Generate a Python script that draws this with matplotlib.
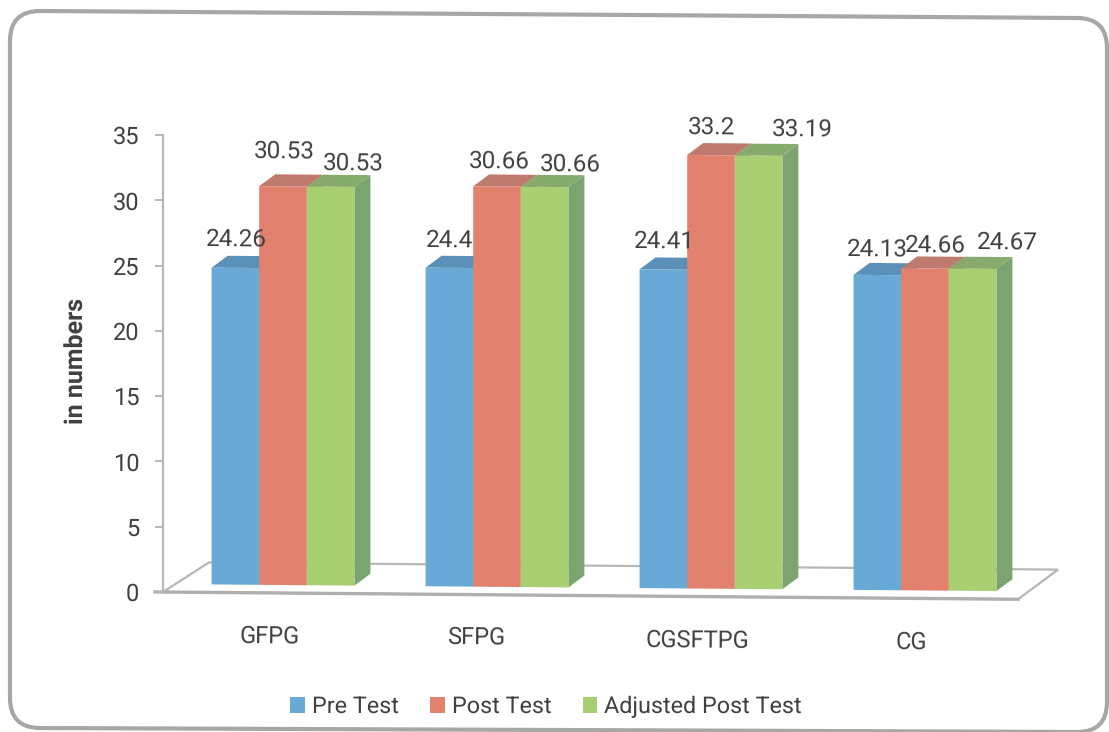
import matplotlib
matplotlib.use("Agg")
import math
import matplotlib.pyplot as plt
from matplotlib.patches import PathPatch, Patch
from matplotlib.path import Path
from matplotlib.transforms import Affine2D

categories = ["GFPG", "SFPG", "CGSFTPG", "CG"]
pre_test = [24.26, 24.4, 24.41, 24.13]
post_test = [30.53, 30.66, 33.2, 24.66]
adjusted_post_test = [30.53, 30.66, 33.19, 24.67]
series_names = ["Pre Test", "Post Test", "Adjusted Post Test"]
y_ticks = [0, 5, 10, 15, 20, 25, 30, 35]
y_label = "in numbers"

# layout (pixels)
W, H = 1109, 732
AX_L, AX_R, AX_T, AX_B = 163, 1018, 135, 592
CAT_PX = 214.0
SLOPE = 0.0085
LIFT = 8
DEPTH_X, DEPTH_Y = 16, 12
label_off = [
    [(1, 28), (1, 35), (23, 23)],
    [(0, 27), (2, 25), (26, 22)],
    [(1, 28), (1, 28), (44, 26)],
    [(0, 26), (10, 23), (35, 26)],
]
cat_off = [(-13, -43), (-21, -43), (-14, -44), (-14, -44)]

front = ["#68a9d5", "#e2826e", "#a9cf73"]
top = ["#5b90b8", "#bd7a6d", "#86ab6c"]
side = ["#5b90b8", "#bd7a6d", "#7ba470"]
ink = "#404040"
rule = "#b4b9b5"

plt.rcParams["font.family"] = ["Roboto", "DejaVu Sans"]
plt.rcParams["text.hinting"] = "none"
fig = plt.figure(figsize=(W / 100, H / 100), dpi=100, facecolor="white")
ax = fig.add_axes([AX_L / W, 1 - AX_B / H, (AX_R - AX_L) / W, (AX_B - AX_T) / H])
ax.patch.set_alpha(0)
u_x = CAT_PX
u_y = (AX_B - AX_T) / 35.0
ax.set_xlim((AX_L - 283) / u_x, (AX_R - 283) / u_x)
ax.set_ylim(0, 35)

tilt = Affine2D().translate(-AX_L, 0).skew(0, -math.atan(SLOPE)).translate(AX_L, 0)
floorT = ax.transData + tilt
barT = ax.transData + Affine2D().translate(0, LIFT) + tilt

# panel border
pxT = Affine2D().scale(1, -1).translate(0, H)
R = 30
TLx, TLy, TRx, TRy, BRx, BRy, BLx, BLy = 10, 11, 1107, 18, 1107, 732, 10, 728
verts = [(TLx + R, TLy), (TRx - R, TRy), (TRx, TRy), (TRx, TRy + R), (BRx, BRy - R), (BRx, BRy),
         (BRx - R, BRy), (BLx + R, BLy), (BLx, BLy), (BLx, BLy - R), (TLx, TLy + R), (TLx, TLy), (TLx + R, TLy)]
codes = [Path.MOVETO, Path.LINETO, Path.CURVE3, Path.CURVE3, Path.LINETO, Path.CURVE3, Path.CURVE3,
         Path.LINETO, Path.CURVE3, Path.CURVE3, Path.LINETO, Path.CURVE3, Path.CURVE3]
fig.add_artist(PathPatch(Path(verts, codes), fc="none", ec="#a6a8a6", lw=3.0, transform=pxT, zorder=0))

# floor
x0, x1 = ax.get_xlim()
ax.fill([x0, x0 + 46 / u_x, x1 + 40 / u_x, x1], [0, 30 / u_y, 30 / u_y, 0],
        fc="white", ec=rule, lw=1.6, transform=floorT, clip_on=False, zorder=1)
ax.plot([x0 - 8 / u_x, x1], [0, 0], color="#aeb0ae", lw=2.4, transform=floorT, clip_on=False, zorder=1.5)

# bars
w = 47.6 / u_x
dx, dy = DEPTH_X / u_x, DEPTH_Y / u_y
all_series = [pre_test, post_test, adjusted_post_test]
for j, vals in enumerate(all_series):
    xs = [i + (j - 1) * w for i in range(len(categories))]
    for x, v in zip(xs, vals):
        l, r = x - w / 2, x + w / 2
        ax.fill([r, r + dx, r + dx, r], [0, dy, v + dy, v], fc=side[j], ec="none",
                transform=barT, clip_on=False, zorder=2 + j)
        ax.fill([l, l + dx, r + dx, r], [v, v + dy, v + dy, v], fc=top[j], ec="none",
                transform=barT, clip_on=False, zorder=2 + j)
    ax.bar(xs, vals, width=w, color=front[j], transform=barT, clip_on=False, zorder=2.5 + j)

# value labels
for j, vals in enumerate(all_series):
    for i, v in enumerate(vals):
        ax.annotate(f"{v:g}", xy=(i + (j - 1) * w, v), xycoords=barT, xytext=label_off[i][j],
                    textcoords="offset pixels", ha="center", va="center", fontsize=17.5, color=ink,
                    rotation=-0.5, zorder=8, annotation_clip=False)

# category labels
for i, c in enumerate(categories):
    ax.annotate(c, xy=(i, 0), xycoords=floorT, xytext=cat_off[i], textcoords="offset pixels",
                ha="center", va="center", fontsize=17, color=ink, rotation=-0.5, annotation_clip=False)

# axes
for s in ["top", "right", "bottom"]:
    ax.spines[s].set_visible(False)
ax.spines["left"].set_color(rule)
ax.spines["left"].set_linewidth(1.6)
ax.set_xticks([])
ax.set_yticks(y_ticks)
ax.tick_params(axis="y", length=6, width=1.4, color=rule, labelsize=17, labelcolor=ink, pad=11)
ax.set_ylabel(y_label, fontsize=18, fontweight="bold", color=ink, va="center")
ax.yaxis.set_label_coords(77 / W, 1 - 361 / H, transform=fig.transFigure)

# legend
handles = [Patch(fc=c, ec="none") for c in front]
leg = fig.legend(handles, series_names, loc="center", bbox_to_anchor=(546 / W, 1 - 707 / H),
                 ncol=3, frameon=False, fontsize=16.8, labelcolor=ink,
                 handlelength=0.62, handleheight=0.62, handletextpad=0.3, columnspacing=1.35)

fig.savefig("out.png", dpi=100)
